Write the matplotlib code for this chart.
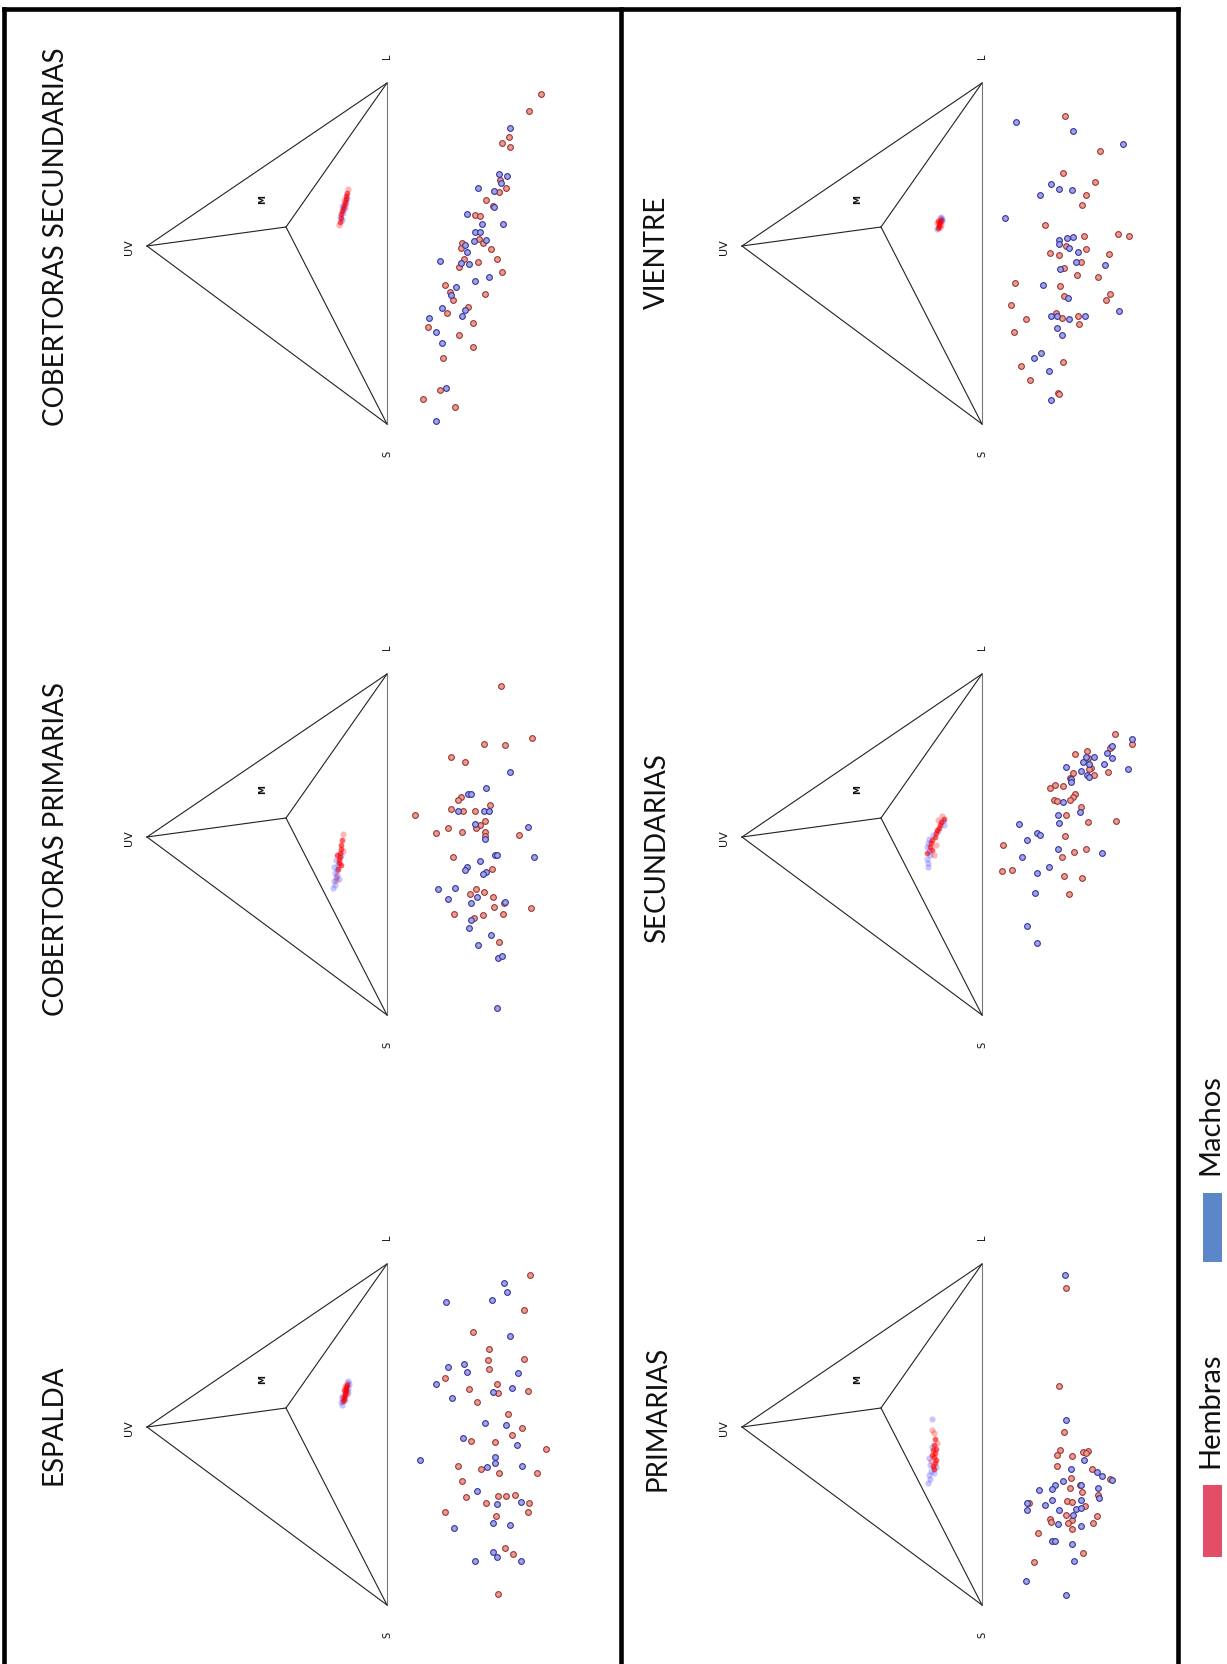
import numpy as np
import matplotlib
matplotlib.use('Agg')
import matplotlib.pyplot as plt
from matplotlib.lines import Line2D
from matplotlib.patches import Rectangle

plt.rcParams['font.family'] = ['Lato', 'DejaVu Sans']

W, H = 1227, 1665  # output size in pixels

# Plumage colour data, one block per body region.
# Scatter pairs are (x, y) in the flat projection drawn under each triangle
# (y < 0 is below the S-L base); *_tcs pairs are the points inside the triangle.
espalda_hembras = [(330,-143),(295,-137),(273,-86),(256,-102),(245,-101),(246,-137),(236,-102),
                   (227,-58),(221,-110),(216,-82),(212,-111),(214,-141),(203,-90),(191,-121),
                   (177,-135),(170,-125),(164,-84),(163,-108),(156,-159),(139,-71),(136,-94),
                   (132,-112),(132,-150),(124,-75),(108,-79),(109,-111),(109,-119),(110,-128),
                   (102,-99),(102,-142),(93,-58),(89,-109),(93,-141),(57,-118),(51,-126),(11,-111)]
espalda_machos = [(322,-117),(313,-120),(303,-59),(305,-105),(269,-123),(241,-77),(238,-61),
                  (233,-80),(232,-131),(221,-49),(213,-106),(217,-125),(207,-65),(182,-98),
                  (180,-119),(167,-76),(160,-130),(145,-33),(148,-108),(142,-108),(138,-100),
                  (139,-135),(114,-90),(101,-110),(103,-134),(82,-106),(80,-123),(77,-67),
                  (53,-106),(48,-110),(44,-88),(44,-134)]
espalda_hembras_tcs = [(222,40),(220,40),(218,41),(216,41),(214,41),(212,42),(210,42),(208,43),
                       (206,43),(204,44),(215,43),(211,40),(219,42),(207,45)]
espalda_machos_tcs = [(224,39),(221,38),(217,39),(203,46),(200,45),(209,45),(213,39),(205,42)]

cob_prim_hembras = [(329,-114),(277,-145),(271,-97),(270,-118),(258,-64),(253,-78),(218,-74),
                    (215,-71),(206,-64),(204,-76),(204,-88),(210,-103),(200,-28),(194,-98),
                    (190,-93),(187,-61),(187,-89),(182,-49),(183,-75),(183,-98),(179,-98),
                    (180,-132),(158,-66),(146,-105),(126,-89),(121,-83),(123,-97),(118,-106),
                    (112,-117),(108,-107),(107,-144),(101,-67),(100,-96),(101,-116),(97,-87),
                    (73,-112)]
cob_prim_machos = [(243,-123),(227,-99),(221,-81),(221,-84),(204,-71),(204,-97),(204,-102),
                   (191,-88),(188,-141),(176,-98),(160,-108),(160,-110),(158,-147),(154,-93),
                   (148,-80),(145,-78),(143,-99),(141,-96),(126,-51),(127,-68),(116,-61),
                   (118,-90),(112,-84),(113,-118),(95,-84),(87,-82),(80,-104),(70,-91),
                   (57,-111),(59,-115),(7,-110)]
cob_prim_hembras_tcs = [(181,44),(175,45),(170,46),(166,46),(162,47),(158,47),(155,48),(152,48),
                        (160,50),(150,46),(146,49),(164,44),(140,50),(135,51)]
cob_prim_machos_tcs = [(160,46),(150,49),(145,50),(142,52),(138,51),(134,53),(130,52),(127,54),
                       (148,53),(155,51),(136,48)]

cob_sec_hembras = [(330,-154),(313,-142),(287,-122),(281,-115),(277,-123),(244,-113),(236,-119),
                   (232,-112),(224,-99),(218,-106),(209,-88),(208,-93),(185,-92),(181,-96),
                   (175,-104),(181,-75),(176,-74),(165,-110),(165,-77),(162,-91),(157,-72),
                   (152,-115),(139,-58),(132,-63),(124,-66),(130,-98),(117,-81),(111,-60),
                   (97,-41),(101,-86),(89,-72),(77,-86),(66,-56),(34,-53),(25,-36),(17,-68)]
cob_sec_machos = [(296,-123),(250,-112),(248,-120),(241,-114),(236,-91),(233,-107),(217,-107),
                  (210,-80),(200,-95),(200,-116),(192,-88),(192,-93),(183,-87),(184,-99),
                  (179,-78),(172,-80),(163,-53),(161,-74),(160,-82),(143,-88),(147,-102),
                  (137,-69),(129,-64),(116,-55),(114,-78),(108,-75),(106,-42),(92,-49),
                  (81,-55),(36,-59),(3,-49)]
cob_sec_hembras_tcs = [(235,39),(231,40),(228,41),(225,41),(222,42),(219,43),(216,44),(213,45),
                       (210,46),(206,46),(202,47),(199,48),(224,43),(217,42)]
cob_sec_machos_tcs = [(226,40),(221,41),(215,43),(211,44),(207,47),(204,45),(218,45)]

primarias_hembras = [(317,-84),(219,-77),(173,-82),(155,-78),(150,-75),(149,-90),(153,-101),
                     (154,-106),(152,-104),(139,-75),(136,-110),(127,-89),(126,-128),(120,-98),
                     (117,-88),(113,-100),(110,-116),(102,-47),(104,-85),(103,-90),(99,-103),
                     (89,-115),(90,-84),(86,-68),(83,-69),(85,-90),(82,-86),(82,-111),(76,-90),
                     (72,-56),(52,-101),(43,-52)]
primarias_machos = [(330,-83),(185,-84),(145,-102),(136,-89),(133,-115),(129,-120),(125,-130),
                    (124,-81),(120,-73),(116,-70),(115,-57),(117,-116),(120,-99),(107,-117),
                    (105,-70),(105,-99),(102,-45),(95,-45),(100,-63),(96,-94),(97,-99),(95,-77),
                    (90,-91),(81,-76),(79,-99),(64,-70),(64,-73),(61,-90),(44,-92),(24,-44),
                    (10,-84)]
primarias_hembras_tcs = [(172,48),(166,47),(160,48),(156,46),(152,47),(148,48),(145,46),(142,47),
                         (139,49),(150,50),(155,49),(136,48),(144,51),(162,45),(175,50)]
primarias_machos_tcs = [(186,50),(158,50),(147,53),(140,52),(134,51),(130,53),(126,52),(122,54),
                        (138,46),(132,48)]

secundarias_hembras = [(281,-133),(271,-150),(268,-129),(267,-128),(264,-105),(261,-93),(257,-106),
                       (247,-109),(246,-107),(243,-126),(240,-112),(242,-91),(237,-88),(230,-73),
                       (227,-68),(229,-81),(221,-93),(218,-91),(215,-88),(215,-72),(214,-75),
                       (208,-99),(200,-84),(193,-106),(194,-134),(179,-83),(170,-21),(166,-104),
                       (163,-92),(158,-80),(145,-30),(144,-20),(139,-82),(137,-100),(121,-87)]
secundarias_machos = [(276,-150),(269,-130),(262,-125),(258,-112),(258,-104),(257,-130),(253,-101),
                      (251,-107),(251,-122),(248,-84),(244,-99),(246,-146),(240,-105),(238,-107),
                      (236,-89),(233,-89),(213,-81),(203,-98),(200,-76),(192,-77),(191,-37),
                      (182,-55),(180,-58),(175,-45),(166,-76),(162,-120),(158,-40),(148,-67),
                      (142,-55),(122,-53),(89,-45),(72,-55)]
secundarias_hembras_tcs = [(199,40),(196,38),(193,41),(190,42),(187,43),(185,45),(182,46),(178,47),
                           (175,50),(172,51),(168,52),(165,50),(162,55),(160,48),(170,46),(195,44)]
secundarias_machos_tcs = [(194,39),(190,38),(180,49),(176,53),(172,54),(168,55),(164,53),(160,52),
                          (156,55),(152,54),(148,54),(184,44)]

vientre_hembras = [(308,-83),(273,-118),(251,-81),(242,-113),(229,-104),(219,-100),(199,-63),
                   (190,-136),(188,-147),(188,-102),(178,-84),(175,-104),(171,-68),(169,-77),
                   (170,-127),(162,-99),(156,-82),(149,-95),(147,-116),(141,-33),(138,-78),
                   (130,-128),(128,-82),(124,-124),(119,-29),(111,-74),(106,-80),(105,-44),
                   (108,-96),(100,-97),(92,-32),(62,-81),(58,-39),(44,-48),(31,-76),(30,-77)]
vientre_machos = [(302,-34),(293,-91),(280,-141),(240,-69),(235,-77),(234,-90),(229,-58),(206,-23),
                  (184,-77),(180,-77),(186,-85),(187,-91),(176,-87),(172,-96),(162,-94),(159,-123),
                  (155,-78),(139,-61),(126,-86),(113,-137),(108,-69),(108,-75),(105,-87),(108,-103),
                  (96,-75),(89,-80),(71,-59),(66,-52),(53,-67),(24,-69)]
vientre_hembras_tcs = [(206,42),(204,41),(202,42),(200,43),(198,43),(196,44),(203,44),(199,41),
                       (201,45),(197,42)]
vientre_machos_tcs = [(207,41),(205,40),(203,40),(195,45)]

leyenda = ['Hembras', 'Machos']

# triangle corners in panel units: S, L, UV and the projected M vertex
tri_S, tri_L, tri_UV, tri_M = (0, 0), (341, 0), (178, 240), (197, 101)

red_face, red_edge = '#ea9c8f', '#9a3535'
blue_face, blue_edge = '#a2a2e8', '#34349a'

fig = plt.figure(figsize=(W / 100, H / 100), dpi=100)


def fx(x):
    return x / W


def fy(y):
    return 1 - y / H


def turn(pts):
    # panels are laid out a quarter turn anticlockwise on the page
    a = np.array(pts, dtype=float)
    return -a[:, 1], a[:, 0]


def panel(xb, ys, title, tx, ty, hem, mac, hem_tcs, mac_tcs):
    ax = fig.add_axes([fx(xb - 280), fy(ys + 60), 480 / W, 460 / H])
    ax.set_xlim(-280, 200)
    ax.set_ylim(-60, 400)
    ax.axis('off')

    for p, q, c in [(tri_S, tri_UV, '#222222'), (tri_L, tri_UV, '#222222'),
                    (tri_S, tri_L, '#777777'), (tri_M, tri_UV, '#222222'),
                    (tri_M, tri_S, '#222222'), (tri_M, tri_L, '#222222')]:
        xs, yy = turn([p, q])
        ax.plot(xs, yy, color=c, lw=0.8)

    lab = dict(rotation=90, ha='center', va='center', family='DejaVu Sans',
               color='#111111')
    ax.text(-258, 178, 'UV', fontsize=8, **lab)
    ax.text(-124, 226, 'M', fontsize=6.5, fontweight='bold', **lab)
    ax.text(0, 369, 'L', fontsize=7, **lab)
    ax.text(0, -29, 'S', fontsize=7, **lab)

    x, y = turn(hem_tcs)
    ax.scatter(x, y, s=20, color='#ff1010', alpha=0.3, lw=0)
    x, y = turn(mac_tcs)
    ax.scatter(x, y, s=20, color='#2020ff', alpha=0.25, lw=0)
    x, y = turn(hem_tcs[1:-3])
    ax.scatter(x, y, s=14, color='#ff0000', alpha=0.5, lw=0)

    x, y = turn(hem)
    ax.scatter(x, y, s=17, facecolor=red_face, edgecolor=red_edge, lw=0.8)
    x, y = turn(mac)
    ax.scatter(x, y, s=17, facecolor=blue_face, edgecolor=blue_edge, lw=0.8)

    fig.text(fx(tx), fy(ty), title, rotation=90, ha='center', va='center',
             fontsize=20, color='#111111')


panel(387, 1606, 'ESPALDA', 54, 1425,
      espalda_hembras, espalda_machos, espalda_hembras_tcs, espalda_machos_tcs)
panel(387, 1016, 'COBERTORAS PRIMARIAS', 56, 849,
      cob_prim_hembras, cob_prim_machos, cob_prim_hembras_tcs, cob_prim_machos_tcs)
panel(387, 425, 'COBERTORAS SECUNDARIAS', 56, 237,
      cob_sec_hembras, cob_sec_machos, cob_sec_hembras_tcs, cob_sec_machos_tcs)
panel(982, 1606, 'PRIMARIAS', 657, 1418,
      primarias_hembras, primarias_machos, primarias_hembras_tcs, primarias_machos_tcs)
panel(982, 1016, 'SECUNDARIAS', 657, 848,
      secundarias_hembras, secundarias_machos, secundarias_hembras_tcs, secundarias_machos_tcs)
panel(982, 425, 'VIENTRE', 657, 252,
      vientre_hembras, vientre_machos, vientre_hembras_tcs, vientre_machos_tcs)

# outer frame (open at the bottom edge) and the column divider
frame = [((4, 10), (1178, 10)), ((4, 10), (4, H)), ((1178, 10), (1178, H)),
         ((621, 10), (621, H))]
for (x0, y0), (x1, y1) in frame:
    fig.add_artist(Line2D([fx(x0), fx(x1)], [fy(y0), fy(y1)], color='black',
                          lw=3.3, solid_capstyle='projecting'))

# legend
for name, col, y0, y1, ty in [(leyenda[0], '#e24e66', 1486, 1558, 1410),
                              (leyenda[1], '#5b86c8', 1194, 1263, 1125)]:
    fig.add_artist(Rectangle((fx(1203), fy(y1)), 19 / W, (y1 - y0) / H,
                             transform=fig.transFigure, color=col, lw=0))
    fig.text(fx(1210), fy(ty), name, rotation=90, ha='center', va='center',
             fontsize=21, color='#111111')

fig.savefig('out.png', dpi=100, facecolor='white')
